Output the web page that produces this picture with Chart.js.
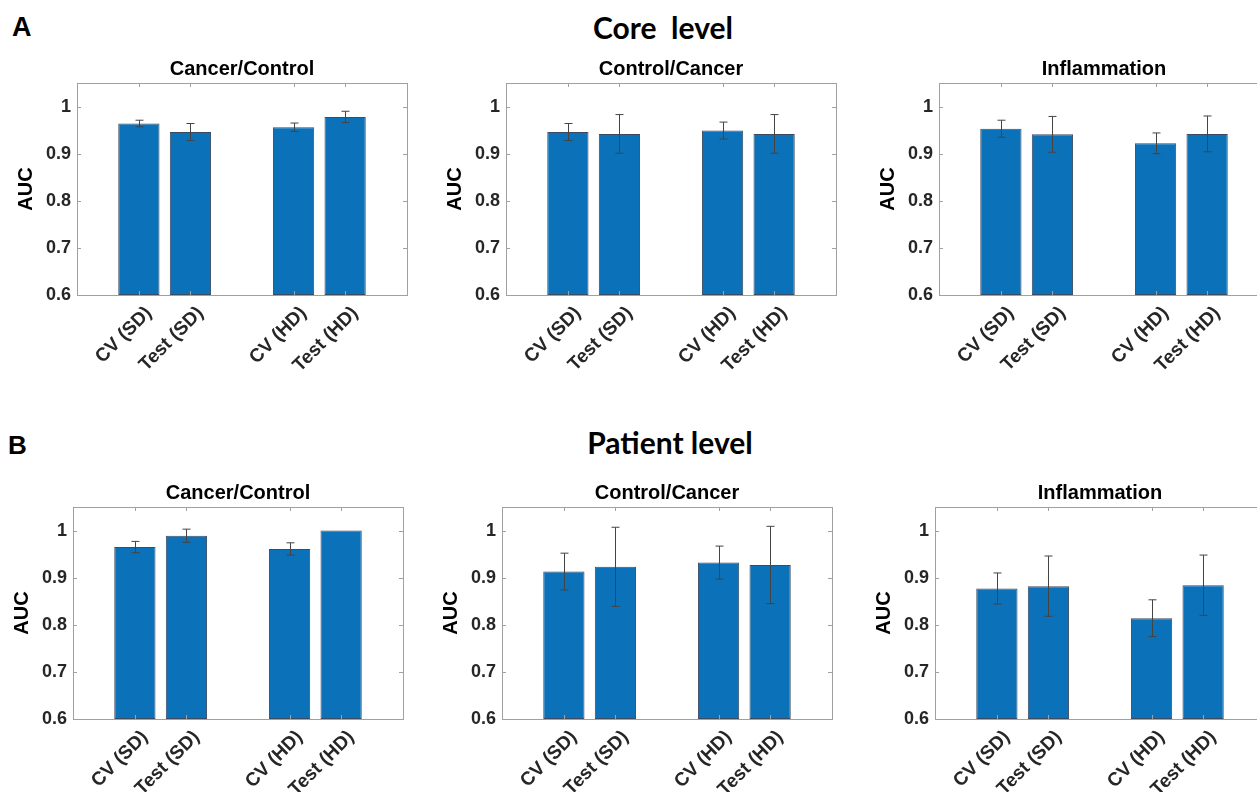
<!DOCTYPE html>
<html>
<head>
<meta charset="utf-8">
<script src="https://cdn.jsdelivr.net/npm/chart.js@4.4.3/dist/chart.umd.min.js"></script>
<style>
  html, body { margin: 0; padding: 0; background: #fff; overflow: hidden; }
  body { width: 1257px; height: 792px; position: relative; }
  canvas { position: absolute; }
  .lbl { position: absolute; font-family: "Liberation Sans", Arial, sans-serif; font-weight: bold; color: #000; line-height: 1; }
  .sup { position: absolute; font-family: Lato, "Open Sans", sans-serif; font-weight: bold; color: #000; line-height: 1; white-space: pre; transform: translateX(-50%); }
</style>
</head>
<body>
<div class="lbl" style="left:12px;top:14px;font-size:27px">A</div>
<div class="lbl" style="left:8px;top:432px;font-size:26px">B</div>
<div class="sup" style="left:663px;top:12px;font-size:30px">Core  level</div>
<div class="sup" style="left:670px;top:427px;font-size:30px">Patient level</div>

<canvas id="c0"></canvas>
<canvas id="c1"></canvas>
<canvas id="c2"></canvas>
<canvas id="c3"></canvas>
<canvas id="c4"></canvas>
<canvas id="c5"></canvas>

<script>
const tickLabels = ["CV (SD)", "Test (SD)", "CV (HD)", "Test (HD)"];
const barPositions = [1, 2, 4, 5];
const yTicks = [0.6, 0.7, 0.8, 0.9, 1];
const panelTitles = ["Cancer/Control", "Control/Cancer", "Inflammation"];

// Core level
const coreCancerControl = [0.964, 0.946, 0.956, 0.978];
const coreCancerControlErr = [0.007, 0.018, 0.009, 0.012];
const coreControlCancer = [0.946, 0.942, 0.949, 0.942];
const coreControlCancerErr = [0.018, 0.041, 0.018, 0.041];
const coreInflammation = [0.953, 0.941, 0.922, 0.942];
const coreInflammationErr = [0.018, 0.038, 0.022, 0.038];

// Patient level
const patientCancerControl = [0.965, 0.989, 0.961, 1.0];
const patientCancerControlErr = [0.012, 0.014, 0.013, 0];
const patientControlCancer = [0.913, 0.923, 0.932, 0.927];
const patientControlCancerErr = [0.039, 0.084, 0.035, 0.082];
const patientInflammation = [0.877, 0.882, 0.814, 0.884];
const patientInflammationErr = [0.033, 0.064, 0.039, 0.064];

const FONT = "'Liberation Sans', Arial, sans-serif";
const TEXT = "#262626";
const FRAME = "#a0a0a0";

// frame + inward ticks, MATLAB style
const boxPlugin = {
  id: "box",
  afterDatasetsDraw(chart) {
    const { ctx, chartArea: a, scales } = chart;
    ctx.save();
    ctx.strokeStyle = FRAME;
    ctx.lineWidth = 1;
    ctx.beginPath();
    scales.x.ticks.forEach(t => {
      const x = Math.round(scales.x.getPixelForValue(t.value)) + 0.5;
      ctx.moveTo(x, a.bottom); ctx.lineTo(x, a.bottom - 4);
      ctx.moveTo(x, a.top); ctx.lineTo(x, a.top + 4);
    });
    scales.y.ticks.forEach(t => {
      const y = Math.round(scales.y.getPixelForValue(t.value)) + 0.5;
      ctx.moveTo(a.left, y); ctx.lineTo(a.left + 4, y);
      ctx.moveTo(a.right, y); ctx.lineTo(a.right - 4, y);
    });
    ctx.stroke();
    ctx.strokeRect(Math.round(a.left) + 0.5, Math.round(a.top) + 0.5, Math.round(a.right - a.left), Math.round(a.bottom - a.top));
    ctx.restore();
  }
};

const errorBarPlugin = {
  id: "errorBars",
  afterDatasetsDraw(chart) {
    const { ctx, scales } = chart;
    ctx.save();
    ctx.strokeStyle = "#444";
    ctx.lineWidth = 1;
    chart.data.datasets.forEach((ds, di) => {
      const meta = chart.getDatasetMeta(di);
      meta.data.forEach((bar, i) => {
        const v = ds.data[i].y, e = ds.errors[i];
        if (!e) return;
        const x = Math.round(bar.x) + 0.5;
        const yHi = scales.y.getPixelForValue(v + e);
        const yLo = scales.y.getPixelForValue(v - e);
        ctx.beginPath();
        ctx.moveTo(x, yHi); ctx.lineTo(x, yLo);
        ctx.moveTo(x - 4, yHi); ctx.lineTo(x + 4, yHi);
        ctx.moveTo(x - 4, yLo); ctx.lineTo(x + 4, yLo);
        ctx.stroke();
      });
    });
    ctx.restore();
  }
};

function makePanel(id, frameLeft, frameTop, title, values, errors) {
  const canvas = document.getElementById(id);
  canvas.width = 410;
  canvas.height = 352;
  canvas.style.left = (frameLeft - 70) + "px";
  canvas.style.top = (frameTop - 40) + "px";

  new Chart(canvas, {
    type: "bar",
    data: {
      datasets: [{
        data: barPositions.map((x, i) => ({ x: x, y: values[i] })),
        errors: errors,
        base: 0.6,
        backgroundColor: "#0b72ba",
        borderColor: "rgba(25,45,70,0.85)",
        borderWidth: 1,
        borderSkipped: false,
        barPercentage: 0.8,
        categoryPercentage: 1.0,
      }],
    },
    options: {
      responsive: false,
      animation: false,
      devicePixelRatio: 1,
      layout: { padding: { left: 0, right: 10, top: 0, bottom: 0 } },
      plugins: {
        legend: { display: false },
        tooltip: { enabled: false },
        title: {
          display: true,
          fullSize: false,
          text: title,
          color: "#000",
          font: { family: FONT, size: 20, weight: "bold", lineHeight: 1.2 },
          padding: { top: 14.5, bottom: 1.5 },
        },
      },
      scales: {
        x: {
          type: "linear",
          min: -0.2,
          max: 6.2,
          offset: false,
          grid: { display: false, drawTicks: false },
          border: { display: false },
          afterBuildTicks: (scale) => { scale.ticks = barPositions.map(v => ({ value: v })); },
          afterFit: (scale) => { scale.height = 100; },
          ticks: {
            autoSkip: false,
            minRotation: 45,
            maxRotation: 45,
            padding: 7,
            labelOffset: 10,
            color: TEXT,
            font: { family: FONT, size: 19, weight: "bold" },
            callback: (v) => tickLabels[barPositions.indexOf(v)],
          },
        },
        y: {
          min: 0.6,
          max: 1.05,
          grid: { display: false, drawTicks: false },
          border: { display: false },
          afterBuildTicks: (scale) => { scale.ticks = yTicks.map(v => ({ value: v })); },
          afterFit: (scale) => { scale.width = 70; },
          title: {
            display: true,
            text: "AUC",
            color: "#000",
            font: { family: FONT, size: 20, weight: "bold", lineHeight: 1.2 },
            padding: { top: 7, bottom: 0 },
          },
          ticks: {
            padding: 6,
            color: TEXT,
            font: { family: FONT, size: 18, weight: "bold" },
            callback: (v) => String(+Number(v).toFixed(2)),
          },
        },
      },
    },
    plugins: [errorBarPlugin, boxPlugin],
  });
}

makePanel("c0", 77, 83, panelTitles[0], coreCancerControl, coreCancerControlErr);
makePanel("c1", 506, 83, panelTitles[1], coreControlCancer, coreControlCancerErr);
makePanel("c2", 939, 83, panelTitles[2], coreInflammation, coreInflammationErr);
makePanel("c3", 73, 507, panelTitles[0], patientCancerControl, patientCancerControlErr);
makePanel("c4", 502, 507, panelTitles[1], patientControlCancer, patientControlCancerErr);
makePanel("c5", 935, 507, panelTitles[2], patientInflammation, patientInflammationErr);
</script>
</body>
</html>
